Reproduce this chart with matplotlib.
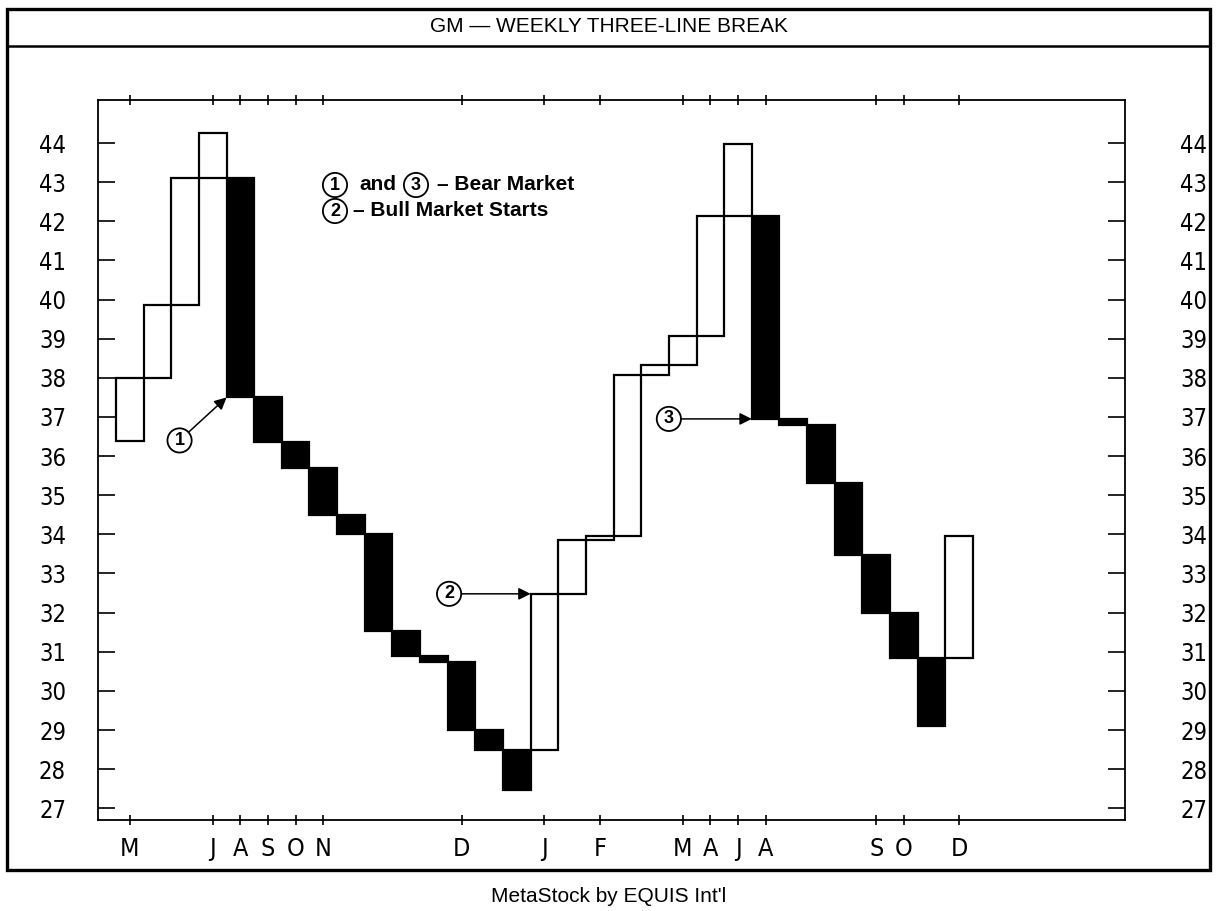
import matplotlib.pyplot as plt
import matplotlib.patches as mpatches
from matplotlib.transforms import offset_copy
import numpy as np

# three-line break columns: open / close of each line, left to right
opens = [36.38, 38.0, 39.85, 43.1, 43.1, 37.5, 36.35, 35.7, 34.5, 34.0, 31.53,
         30.88, 30.75, 28.99, 28.48, 28.48, 32.48, 33.86, 33.97, 38.07, 38.32,
         39.06, 42.14, 42.14, 36.95, 36.8, 35.3, 33.46, 32.0, 30.85, 30.85]
closes = [38.0, 39.85, 43.1, 44.25, 37.5, 36.35, 35.7, 34.5, 34.0, 31.53, 30.88,
          30.75, 28.99, 28.48, 27.47, 32.48, 33.86, 33.97, 38.07, 38.32, 39.06,
          42.14, 43.97, 36.95, 36.8, 35.3, 33.46, 32.0, 30.85, 29.09, 33.96]

month_pos = [0, 3, 4, 5, 6, 7, 12, 15, 17, 20, 21, 22, 23, 27, 28, 30]
month_labels = ['M', 'J', 'A', 'S', 'O', 'N', 'D', 'J', 'F', 'M', 'A', 'J', 'A', 'S', 'O', 'D']
price_ticks = list(range(27, 45))

# (label, line index, price pointed at, circle x, circle y)
callouts = [('1', 4, 37.5, 1.8, 36.4),
            ('2', 15, 32.48, 11.55, 32.48),
            ('3', 23, 36.95, 19.5, 36.95)]

W, H = 1217, 911
fig = plt.figure(figsize=(W / 100, H / 100), dpi=100)
ax = fig.add_axes([98 / W, 1 - 820 / H, (1125 - 98) / W, (820 - 100) / H])

tick_font = dict(family='DejaVu Sans', stretch='condensed', fontsize=17)
sans = 'Liberation Sans'

x = np.arange(len(opens))
lo = np.minimum(opens, closes)
hi = np.maximum(opens, closes)
colors = ['white' if c > o else 'black' for o, c in zip(opens, closes)]
ax.bar(x, hi - lo, bottom=lo, width=1.0, color=colors, edgecolor='black', linewidth=1.6)

ax.set_xlim(-1.15, 36.0)
ax.set_ylim(26.7, 45.1)

ax.set_yticks(price_ticks)
ax.set_yticklabels([str(v) for v in price_ticks], **tick_font)
ax.tick_params(axis='y', direction='in', length=12, width=1.2, pad=23,
               left=True, right=True, labelleft=True, labelright=True)
for t in ax.yaxis.get_major_ticks():
    t.label2.set_fontproperties(t.label1.get_fontproperties())
    t.label2.set_transform(offset_copy(ax.get_yaxis_transform(which='tick2'), fig=fig,
                                       x=55, y=0, units='dots'))
    t.label2.set_horizontalalignment('left')

ax.set_xticks(month_pos)
ax.set_xticklabels(month_labels, family='DejaVu Sans', stretch='condensed', fontsize=18)
ax.tick_params(axis='x', direction='inout', length=7, width=1.2, pad=9, top=True)

for s in ax.spines.values():
    s.set_linewidth(1.3)

# callouts with arrows
for lab, i, price, cx, cy in callouts:
    ax.annotate(lab, xy=(i - 0.5, price), xytext=(cx, cy), ha='center', va='center',
                fontsize=13, family=sans, weight='bold',
                bbox=dict(boxstyle='circle,pad=0.2', fc='white', ec='black', lw=1.3),
                arrowprops=dict(arrowstyle='-|>', color='black', lw=1.1, mutation_scale=18,
                                shrinkA=0, shrinkB=0))


def circ(px, py, s):
    fig.text(px / W, 1 - py / H, s, ha='center', va='center', fontsize=13, family=sans,
             weight='bold', bbox=dict(boxstyle='circle,pad=0.2', fc='white', ec='black', lw=1.3))


# key
key = dict(ha='left', va='center', fontsize=15, family=sans, weight='bold')
circ(335, 185, '1')
fig.text(359 / W, 1 - 185 / H, 'and', **key)
circ(416, 185, '3')
fig.text(437 / W, 1 - 185 / H, '– Bear Market', **key)
circ(335, 211, '2')
fig.text(353 / W, 1 - 211 / H, '– Bull Market Starts', **key)

# page frame, title band and footer
fig.patches.append(mpatches.Rectangle((7 / W, 1 - 870 / H), (1210 - 7) / W, (870 - 9) / H,
                                      transform=fig.transFigure, fill=False, lw=2.4, ec='black'))
fig.add_artist(plt.Line2D([7 / W, 1210 / W], [1 - 46 / H, 1 - 46 / H], transform=fig.transFigure,
                          color='black', lw=1.8))
fig.text(0.5, 1 - 27 / H, 'GM — WEEKLY THREE-LINE BREAK', ha='center', va='center',
         fontsize=15, family=sans)
fig.text(0.5, 1 - 897 / H, "MetaStock by EQUIS Int'l", ha='center', va='center',
         fontsize=15, family=sans)

fig.savefig('out.png', dpi=100)
